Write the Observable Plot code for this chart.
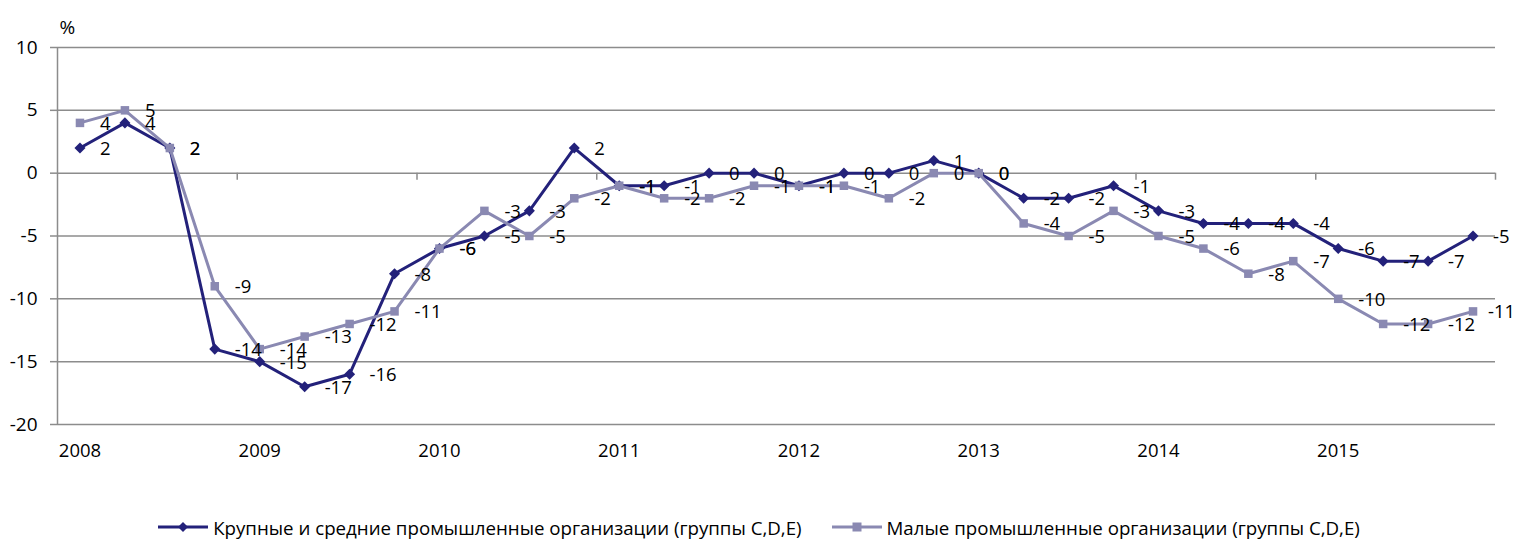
<!DOCTYPE html>
<html>
<head>
<meta charset="utf-8">
<script src="https://cdn.jsdelivr.net/npm/d3@7"></script>
<script src="https://cdn.jsdelivr.net/npm/@observablehq/plot@0.6"></script>
<style>
  body { margin: 0; background: #fff; font-family: "Open Sans", sans-serif; }
  #chart { width: 1518px; }
  .legend { display: flex; justify-content: center; align-items: center; gap: 30px; height: 44px; font-size: 18.7px; color: #000; padding-left: 0; }
  .legend .item { display: flex; align-items: center; gap: 5px; }
</style>
</head>
<body>
<div id="chart"></div>
<script>
const years = [2008, 2009, 2010, 2011, 2012, 2013, 2014, 2015];
const quartersPerYear = 4;
const seriesNames = [
  "Крупные и средние промышленные организации (группы C,D,E)",
  "Малые промышленные организации (группы C,D,E)"
];
const largeValues = [2, 4, 2, -14, -15, -17, -16, -8, -6, -5, -3, 2, -1, -1, 0, 0, -1, 0, 0, 1, 0, -2, -2, -1, -3, -4, -4, -4, -6, -7, -7, -5];
const smallValues = [4, 5, 2, -9, -14, -13, -12, -11, -6, -3, -5, -2, -1, -2, -2, -1, -1, -1, -2, 0, 0, -4, -5, -3, -5, -6, -8, -7, -10, -12, -12, -11];
const yTicks = [-20, -15, -10, -5, 0, 5, 10];
const colors = ["#23217a", "#8a89b2"];

const large = largeValues.map((v, i) => ({i, v}));
const small = smallValues.map((v, i) => ({i, v}));
const n = largeValues.length;
const smallMain = small.filter((d) => d.i < n - 1);
const smallLast = small.filter((d) => d.i === n - 1);
const yearStarts = years.map((y, k) => k * quartersPerYear);
const boundaries = years.map((y, k) => (k + 1) * quartersPerYear - 0.5);

const font = "Open Sans";
const labelOpts = {x: "i", y: "v", text: (d) => String(d.v), textAnchor: "start", dy: 1, fill: "#000", fontSize: 18.5};
const plot = Plot.plot({
  width: 1518,
  height: 505,
  marginTop: 47,
  marginBottom: 81,
  marginLeft: 57,
  marginRight: 23,
  style: {fontFamily: font, fontSize: "18.5px", color: "#000", background: "#fff", overflow: "visible"},
  x: {domain: [-0.5, n - 0.5]},
  y: {domain: [-20, 10]},
  marks: [
    Plot.gridY(yTicks, {stroke: "#8c8c8c", strokeOpacity: 1, strokeWidth: 1.5}),
    Plot.axisY({ticks: yTicks, tickFormat: (d) => String(d), tickSize: 7, tickPadding: 13, stroke: "#8c8c8c", strokeWidth: 1.5, fontSize: 19, label: null}),
    Plot.axisX({ticks: yearStarts, tickFormat: (d) => String(years[d / quartersPerYear]), tickSize: 0, tickPadding: 19, fontSize: 18.5, label: null}),
    Plot.ruleX([-0.5], {stroke: "#8c8c8c", strokeWidth: 1.5}),
    Plot.ruleX(boundaries, {y1: 0, y2: -0.56, stroke: "#8c8c8c", strokeWidth: 1.5}),
    Plot.text(["%"], {frameAnchor: "top-left", dy: -27, dx: 2, textAnchor: "start", fontSize: 19}),
    Plot.line(large, {x: "i", y: "v", stroke: colors[0], strokeWidth: 3}),
    Plot.dot(large, {x: "i", y: "v", symbol: "diamond2", r: 5, fill: colors[0], stroke: colors[0], strokeWidth: 0}),
    Plot.line(small, {x: "i", y: "v", stroke: colors[1], strokeWidth: 3}),
    Plot.dot(small, {x: "i", y: "v", symbol: "square", r: 4.8, fill: colors[1], stroke: colors[1], strokeWidth: 0}),
    Plot.text(large, {...labelOpts, dx: 20}),
    Plot.text(smallMain, {...labelOpts, dx: 20}),
    Plot.text(smallLast, {...labelOpts, dx: 15})
  ]
});
document.getElementById("chart").appendChild(plot);

const legend = document.createElement("div");
legend.className = "legend";
const symbols = [
  '<path d="M25,-5 L30,0 L25,5 L20,0 Z" />',
  '<rect x="20.5" y="-4.5" width="9" height="9" />'
];
seriesNames.forEach((name, k) => {
  const item = document.createElement("div");
  item.className = "item";
  item.innerHTML = `<svg width="50" height="14" viewBox="0 -7 50 14"><line x1="0" y1="0" x2="50" y2="0" stroke="${colors[k]}" stroke-width="3"/><g fill="${colors[k]}">${symbols[k]}</g></svg><span>${name}</span>`;
  legend.appendChild(item);
});
document.getElementById("chart").appendChild(legend);
</script>
</body>
</html>
